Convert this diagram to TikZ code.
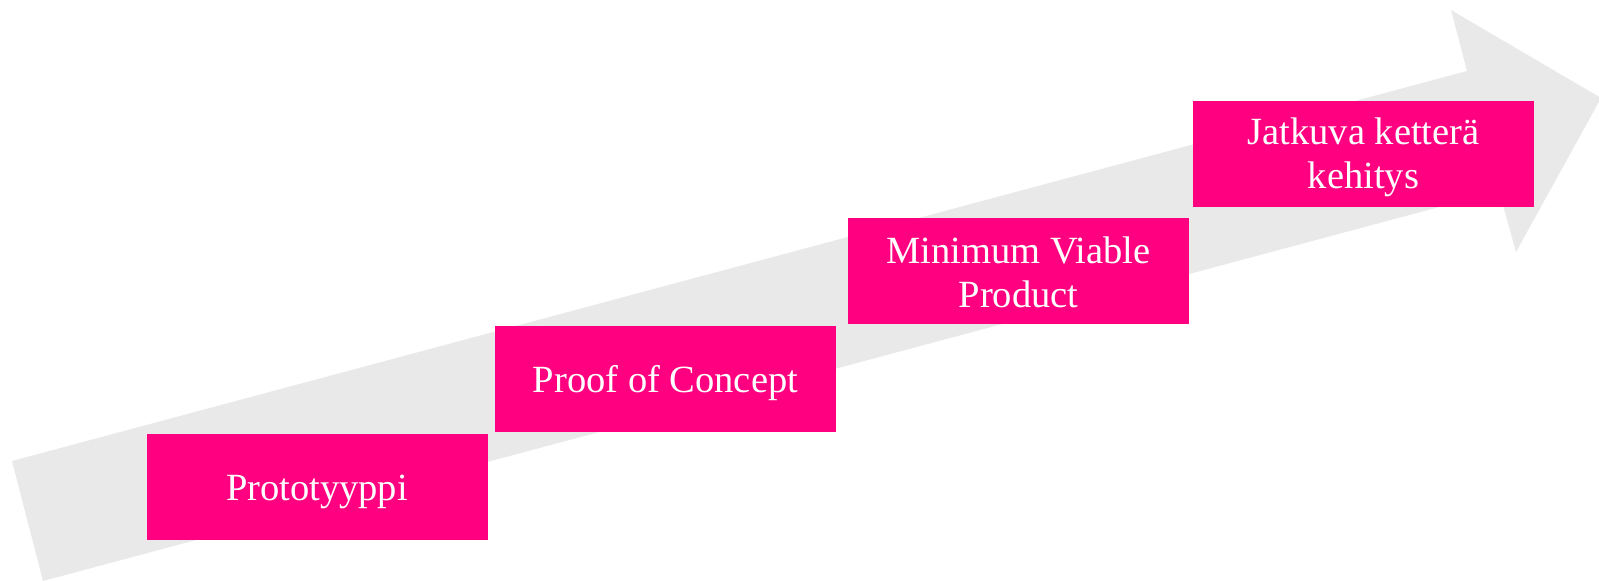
\documentclass[tikz,border=0pt]{standalone}
\usepackage{fontspec}
\setmainfont{Liberation Serif}
\definecolor{arrowgrey}{HTML}{E9E9E9}
\definecolor{stagepink}{HTML}{FF0080}
\begin{document}
\begin{tikzpicture}[x=1pt,y=-1pt,
  stagebox/.style={fill=stagepink, draw=none, text=white, minimum width=341pt, minimum height=106pt,
    inner sep=0pt, align=center, font=\fontsize{38.5}{40}\selectfont},
  oneline/.style={text height=30pt, text depth=3pt}]
\useasboundingbox (0,0) rectangle (1599,581);
% big grey arrow
\fill[arrowgrey] (12,461) -- (1467,71) -- (1451,10) -- (1601,98) -- (1516,252) -- (1499,191) -- (43,581) -- cycle;
% stages
\node[stagebox, oneline] (proto) at (317,487) {Prototyyppi};
\node[stagebox, oneline] (poc) at (665.5,378.5) {Proof of Concept};
\node[stagebox] (mvp) at (1018.5,271) {\rule{0pt}{29pt}Minimum Viable\\[4pt]Product};
\node[stagebox] (agile) at (1363.5,153.5) {\rule{0pt}{34pt}Jatkuva ketterä\\[4pt]kehitys};
\end{tikzpicture}
\end{document}
